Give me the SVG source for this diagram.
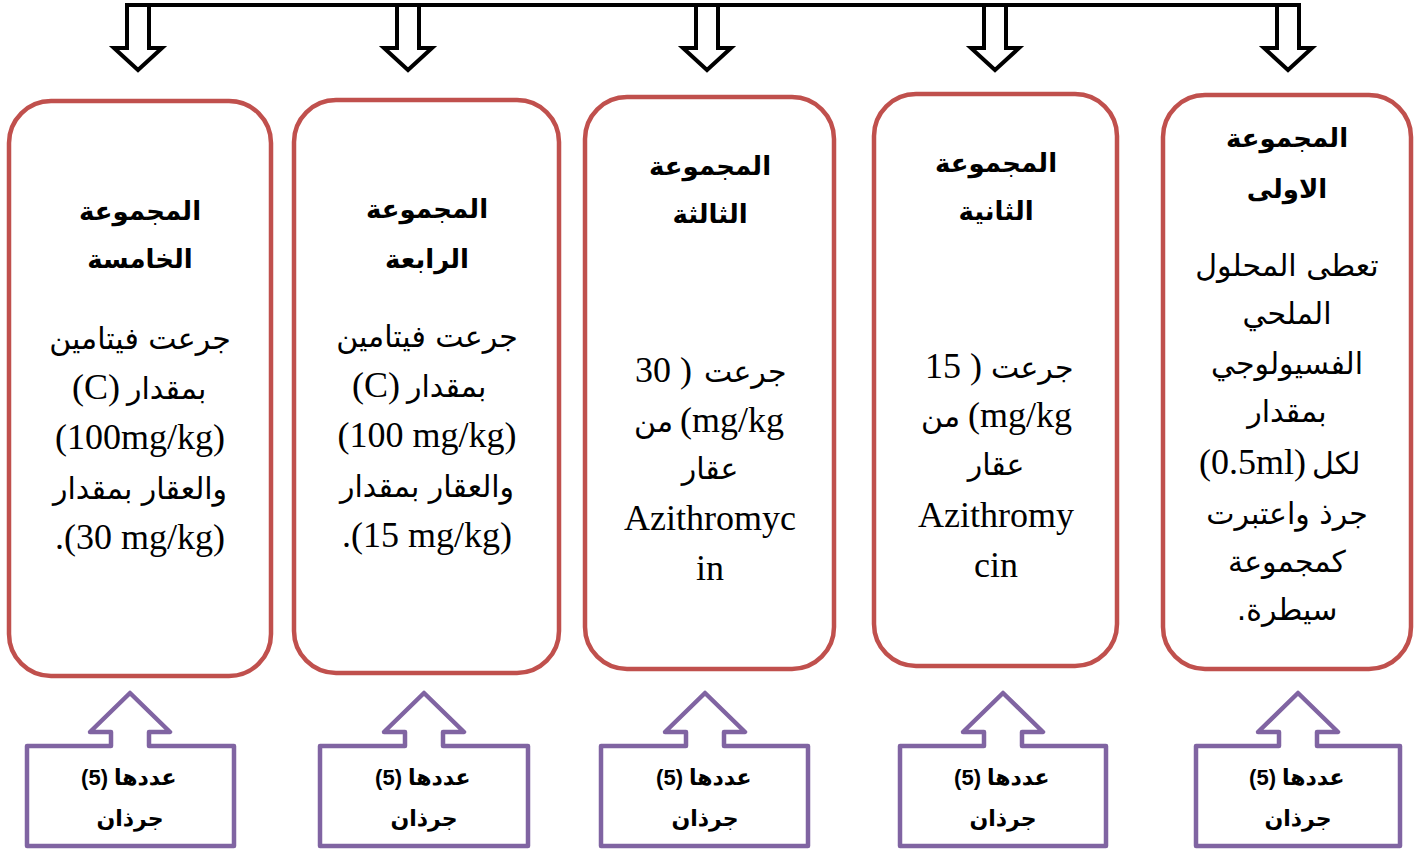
<svg xmlns="http://www.w3.org/2000/svg" width="1424" height="850" viewBox="0 0 1424 850">
<style>
.box{fill:#fff;stroke:#C0504D;stroke-width:4.5}
.dn{fill:#fff;stroke:#000;stroke-width:4;stroke-linejoin:miter}
.up{fill:#fff;stroke:#8064A2;stroke-width:4.5;stroke-linejoin:round}
.t{font-family:"DejaVu Sans",sans-serif;font-size:26px;font-weight:bold;text-anchor:middle;fill:#000;direction:rtl}
.b{font-family:"Liberation Serif",serif;font-size:36px;text-anchor:middle;fill:#000}
.a{font-family:"DejaVu Sans",sans-serif;font-size:30px;text-anchor:middle;fill:#000;direction:rtl}
.as{font-family:"DejaVu Sans",sans-serif;font-size:30px;fill:#000}
.c{font-family:"Liberation Sans","DejaVu Sans",sans-serif;font-size:22px;font-weight:bold;fill:#000}
.cm{text-anchor:middle;direction:rtl}
.e{text-anchor:end}
.s{text-anchor:start}
</style>
<rect width="1424" height="850" fill="#fff"/>
<g id="connectors">
<line x1="126" y1="5" x2="1300" y2="5" stroke="#000" stroke-width="4"/>
<path class="dn" d="M127,5 H149 V48 H162 L138,70 L114,48 H127 Z"/>
<path class="dn" d="M397,5 H419 V48 H432 L408,70 L384,48 H397 Z"/>
<path class="dn" d="M696,5 H718 V48 H731 L707,70 L683,48 H696 Z"/>
<path class="dn" d="M984,5 H1006 V48 H1019 L995,70 L971,48 H984 Z"/>
<path class="dn" d="M1277,5 H1299 V48 H1312 L1288,70 L1264,48 H1277 Z"/>
</g>
<g id="group5">
<rect class="box" x="9" y="101" width="262" height="575" rx="42"/>
<text class="t" x="140" y="220">المجموعة</text>
<text class="t" x="140" y="268">الخامسة</text>
<text class="a" x="140" y="349">جرعت فيتامين</text>
<text class="b e" x="120" y="399">(C)</text>
<text class="as s" x="127" y="399">بمقدار</text>
<text class="b" x="140" y="449">(100mg/kg)</text>
<text class="a" x="140" y="499">والعقار بمقدار</text>
<text class="b" x="140" y="549">.(30 mg/kg)</text>
</g>
<g id="group4">
<rect class="box" x="294" y="100" width="265" height="573" rx="42"/>
<text class="t" x="427" y="218">المجموعة</text>
<text class="t" x="427" y="268">الرابعة</text>
<text class="a" x="427" y="347">جرعت فيتامين</text>
<text class="b e" x="400" y="397">(C)</text>
<text class="as s" x="407" y="397">بمقدار</text>
<text class="b" x="427" y="447">(100 mg/kg)</text>
<text class="a" x="427" y="497">والعقار بمقدار</text>
<text class="b" x="427" y="547">.(15 mg/kg)</text>
</g>
<g id="group3">
<rect class="box" x="585" y="97" width="249" height="572" rx="42"/>
<text class="t" x="710" y="175">المجموعة</text>
<text class="t" x="710" y="223">الثالثة</text>
<text class="b e" x="692" y="382">30 )</text>
<text class="as s" x="704" y="382">جرعت</text>
<text class="as e" x="673" y="432">من</text>
<text class="b s" x="680" y="432">(mg/kg</text>
<text class="a" x="710" y="479">عقار</text>
<text class="b" x="710" y="530">Azithromyc</text>
<text class="b" x="710" y="580">in</text>
</g>
<g id="group2">
<rect class="box" x="874" y="94" width="243" height="572" rx="42"/>
<text class="t" x="996" y="172">المجموعة</text>
<text class="t" x="996" y="220">الثانية</text>
<text class="b e" x="982" y="378">15 )</text>
<text class="as s" x="991" y="378">جرعت</text>
<text class="as e" x="960" y="427">من</text>
<text class="b s" x="968" y="427">(mg/kg</text>
<text class="a" x="996" y="475">عقار</text>
<text class="b" x="996" y="527">Azithromy</text>
<text class="b" x="996" y="577">cin</text>
</g>
<g id="group1">
<rect class="box" x="1163" y="95" width="248" height="574" rx="42"/>
<text class="t" x="1287" y="147">المجموعة</text>
<text class="t" x="1287" y="198">الاولى</text>
<text class="a" x="1287" y="276">تعطى المحلول</text>
<text class="a" x="1287" y="324">الملحي</text>
<text class="a" x="1287" y="374">الفسيولوجي</text>
<text class="a" x="1287" y="422">بمقدار</text>
<text class="b e" x="1306" y="474">(0.5ml)</text>
<text class="as s" x="1312" y="474">لكل</text>
<text class="a" x="1287" y="524">جرذ واعتبرت</text>
<text class="a" x="1287" y="572">كمجموعة</text>
<text class="a" x="1287" y="620">سيطرة.</text>
</g>
<g id="count5">
<path class="up" d="M27,746 H111 V732 H90 L130,693 L170,732 H149 V746 H234 V846 H27 Z"/>
<text class="c e" x="108" y="785">(5)</text>
<text class="c s" x="114" y="785">عددها</text>
<text class="c cm" x="130" y="826">جرذان</text>
</g>
<g id="count4">
<path class="up" d="M320,746 H405 V732 H384 L424,693 L464,732 H443 V746 H528 V846 H320 Z"/>
<text class="c e" x="402" y="785">(5)</text>
<text class="c s" x="408" y="785">عددها</text>
<text class="c cm" x="424" y="826">جرذان</text>
</g>
<g id="count3">
<path class="up" d="M601,746 H686 V732 H665 L705,693 L745,732 H724 V746 H808 V846 H601 Z"/>
<text class="c e" x="683" y="785">(5)</text>
<text class="c s" x="689" y="785">عددها</text>
<text class="c cm" x="705" y="826">جرذان</text>
</g>
<g id="count2">
<path class="up" d="M900,746 H984 V732 H963 L1003,693 L1043,732 H1022 V746 H1106 V846 H900 Z"/>
<text class="c e" x="981" y="785">(5)</text>
<text class="c s" x="987" y="785">عددها</text>
<text class="c cm" x="1003" y="826">جرذان</text>
</g>
<g id="count1">
<path class="up" d="M1196,746 H1279 V732 H1258 L1298,693 L1338,732 H1317 V746 H1400 V846 H1196 Z"/>
<text class="c e" x="1276" y="785">(5)</text>
<text class="c s" x="1282" y="785">عددها</text>
<text class="c cm" x="1298" y="826">جرذان</text>
</g>
</svg>
